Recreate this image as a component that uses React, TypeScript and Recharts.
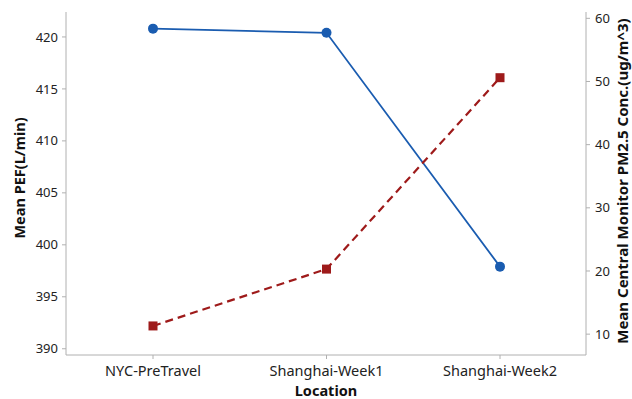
import { LineChart, Line, XAxis, YAxis } from "recharts"

const locations = ["NYC-PreTravel", "Shanghai-Week1", "Shanghai-Week2"]
const meanPef = [420.8, 420.4, 397.9]
const meanPm25 = [11.3, 20.3, 50.6]
const pefTicks = [390, 395, 400, 405, 410, 415, 420]
const pmTicks = [10, 20, 30, 40, 50, 60]

const data = locations.map((loc, i) => ({ loc, pef: meanPef[i], pm: meanPm25[i] }))

const FONT = "'Noto Sans', sans-serif"
const AXIS = "#b0b0b0"
const BLUE = "#1a5cb0"
const RED = "#9e1a1a"

const tickStyle = { fontSize: 13, fill: "#222", fontFamily: FONT }

function Square(props: any) {
  const { cx, cy, index } = props
  return <rect key={index} x={cx - 4.5} y={cy - 4.5} width={9} height={9} fill={RED} />
}

export default function App() {
  return (
    <div style={{ position: "absolute", left: 0, top: 0, width: 632, height: 399, background: "#fff" }}>
      <LineChart width={632} height={399} data={data} margin={{ top: 12, right: 0, left: 0, bottom: 0 }}>
        <XAxis xAxisId="top" dataKey="loc" orientation="top" height={0} tick={false} tickLine={false} stroke={AXIS} />
        <XAxis
          dataKey="loc"
          height={44}
          stroke={AXIS}
          padding={{ left: 87, right: 86 }}
          tickSize={4}
          tickMargin={7}
          tick={{ ...tickStyle, fontSize: 14.5 }}
          label={{
            content: () => (
              <text x={326} y={396} textAnchor="middle" fontFamily={FONT} fontSize={14.5} fontWeight="bold" fill="#111">
                Location
              </text>
            ),
          }}
        />
        <YAxis
          yAxisId="pef"
          width={66}
          domain={[389.4, 422.4]}
          ticks={pefTicks}
          stroke={AXIS}
          tickSize={4}
          tickMargin={4}
          tick={tickStyle}
          allowDataOverflow
          label={{
            content: () => (
              <text
                x={25}
                y={178}
                transform="rotate(-90, 25, 178)"
                textAnchor="middle"
                fontFamily={FONT}
                fontSize={14.5}
                fontWeight="bold"
                fill="#111"
              >
                Mean PEF(L/min)
              </text>
            ),
          }}
        />
        <YAxis
          yAxisId="pm"
          orientation="right"
          width={46}
          domain={[6.7, 61]}
          ticks={pmTicks}
          stroke={AXIS}
          tickSize={4}
          tickMargin={5}
          tick={tickStyle}
          allowDataOverflow
          label={{
            content: () => (
              <text
                x={628}
                y={181}
                transform="rotate(-90, 628, 181)"
                textAnchor="middle"
                fontFamily={FONT}
                fontSize={15}
                fontWeight="bold"
                fill="#111"
              >
                Mean Central Monitor PM2.5 Conc.(ug/m^3)
              </text>
            ),
          }}
        />
        <Line
          yAxisId="pef"
          dataKey="pef"
          stroke={BLUE}
          strokeWidth={1.8}
          dot={{ r: 5, fill: BLUE, stroke: BLUE, strokeWidth: 0 }}
          isAnimationActive={false}
        />
        <Line
          yAxisId="pm"
          dataKey="pm"
          stroke={RED}
          strokeWidth={2.2}
          strokeDasharray="8 5"
          dot={<Square />}
          isAnimationActive={false}
        />
      </LineChart>
    </div>
  )
}
